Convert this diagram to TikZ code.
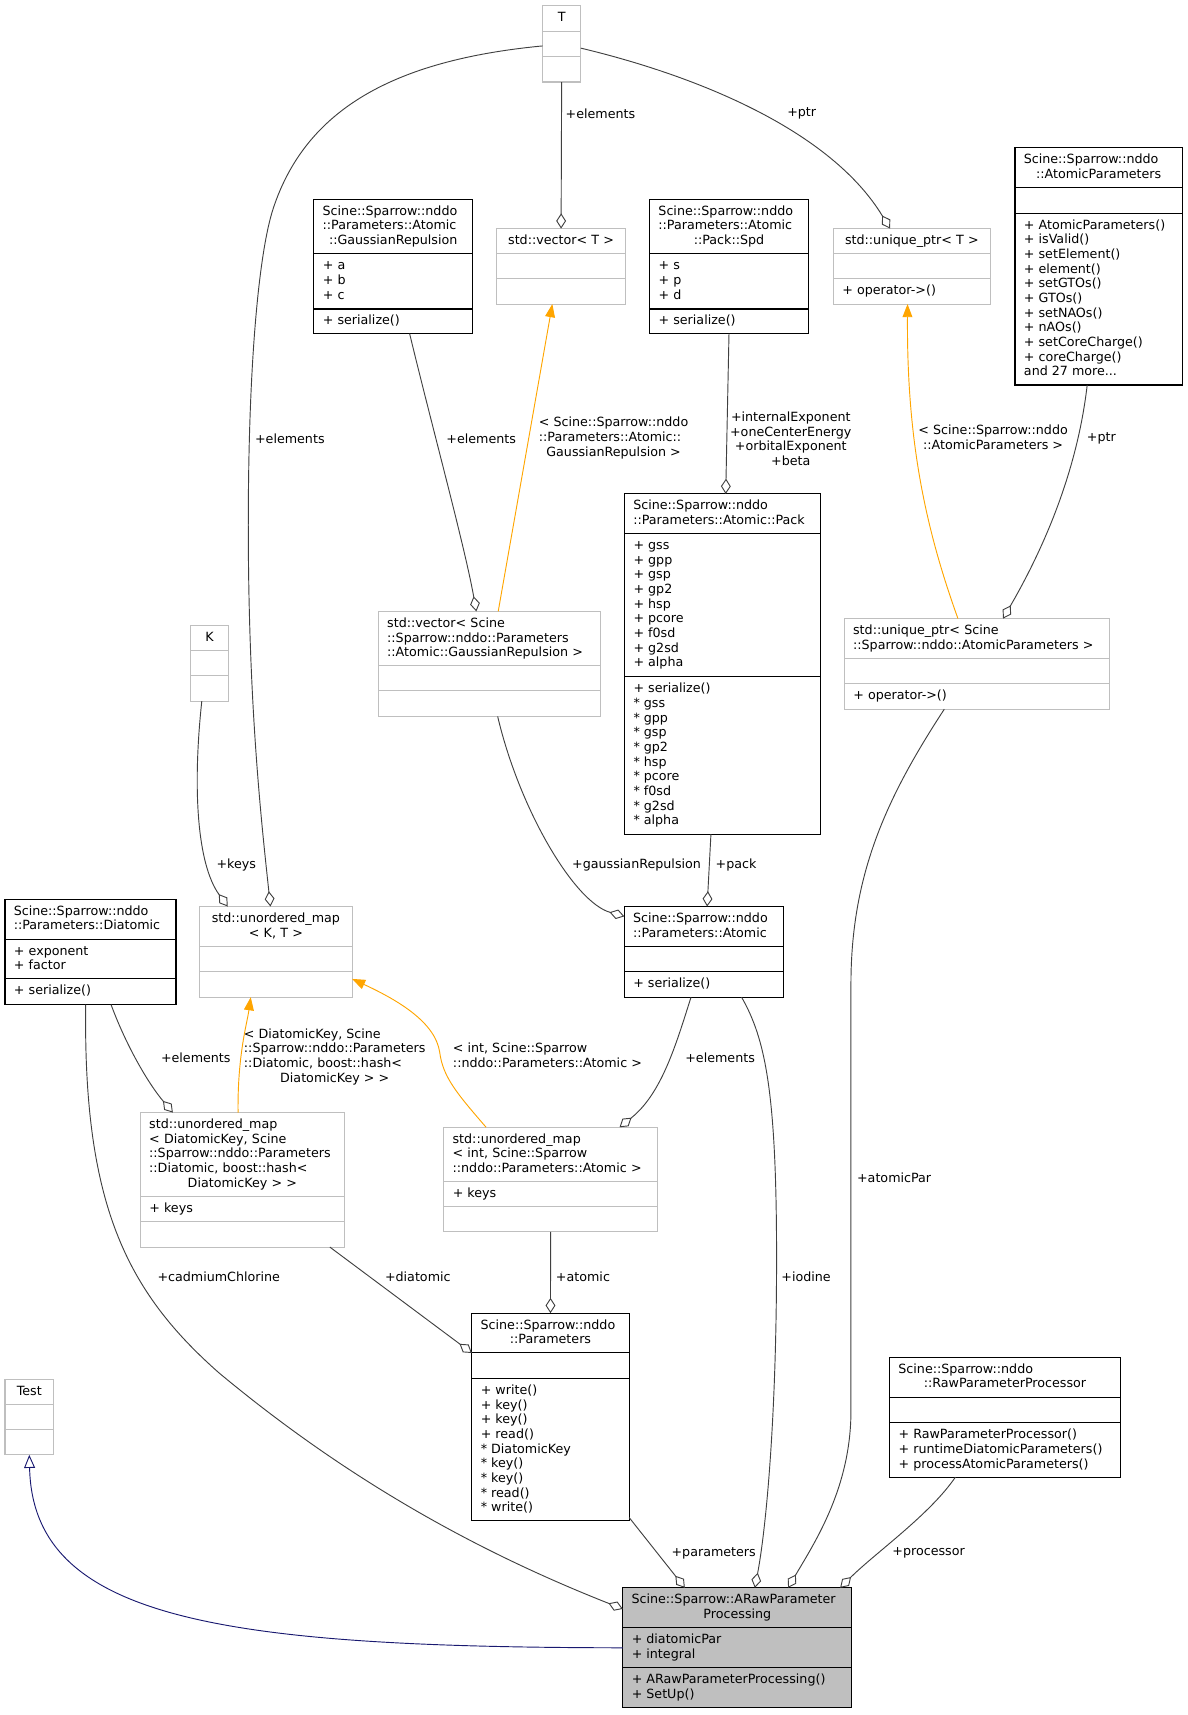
\documentclass[tikz,border=0pt]{standalone}
\usepackage{fontspec}
\setmainfont{DejaVu Sans}
\usetikzlibrary{arrows.meta}
\setlength\parindent{0pt}
\definecolor{edgegray}{HTML}{404040}
\definecolor{boxgray}{HTML}{BFBFBF}
\definecolor{tmplorange}{HTML}{FFA500}
\definecolor{inhnavy}{HTML}{191970}
\newcommand\fs{\fontsize{11.6}{13.4}\selectfont}
\newcommand\cl[1]{{\centering #1\par}}
\newcommand\elab[2]{\begin{tabular}{@{}l@{}}#1\\\multicolumn{1}{@{}c@{}}{#2}\end{tabular}}
\newcommand\seps[4]{\draw[#4,line width=1pt] ([yshift=-#2pt]#1.north west) -- ([yshift=-#2pt]#1.north east) ([yshift=-#3pt]#1.north west) -- ([yshift=-#3pt]#1.north east);}
\newcommand\hdr[3]{\node[hdrtxt,text width=#2] at ([yshift=-5pt]#1.north) {\strut #3};}
\newcommand\members[5]{\node[membtxt] at ([xshift=8pt,yshift=-#2pt-5pt]#1.north west) {\strut #4};
  \node[membtxt] at ([xshift=8pt,yshift=-#3pt-5pt]#1.north west) {\strut #5};}
\tikzset{
  classbox/.style={draw=black,line width=1pt,fill=white,anchor=north west,inner sep=0pt,outer sep=0pt},
  tmplbox/.style={classbox,draw=boxgray},
  hdrtxt/.style={anchor=north,inner sep=0pt,font=\fs,align=left},
  membtxt/.style={anchor=north west,inner sep=0pt,font=\fs,align=left},
  lbl/.style={inner sep=0pt,font=\fs},
  agg/.style={draw=edgegray,line width=0.85pt,-{Diamond[open,length=14pt,width=9pt]}},
  tmpl/.style={draw=tmplorange,line width=0.85pt,-{Triangle[length=12pt,width=9pt]}},
  inh/.style={draw=inhnavy,line width=0.85pt,-{Triangle[open,length=12pt,width=10pt]}},
}
\begin{document}
\begin{tikzpicture}[x=1pt,y=-1pt]
\useasboundingbox (0,0) rectangle (1086,1568);

\node[tmplbox,minimum width=35,minimum height=70] (T) at (496,5) {};
\seps{T}{24}{47}{boxgray}
\hdr{T}{19}{\cl{T}}

\node[tmplbox,minimum width=35,minimum height=69] (K) at (174,572) {};
\seps{K}{23}{46}{boxgray}
\hdr{K}{19}{\cl{K}}

\node[classbox,minimum width=145,minimum height=123] (GR) at (287,182) {};
\seps{GR}{50}{100.5}{black}
\hdr{GR}{129}{Scine::Sparrow::nddo\par ::Parameters::Atomic\par\cl{::GaussianRepulsion}}
\members{GR}{50}{100.5}{+ a\\+ b\\+ c}{+ serialize()}

\node[tmplbox,minimum width=118,minimum height=69] (vecT) at (454,209) {};
\seps{vecT}{23}{46}{boxgray}
\hdr{vecT}{102}{\cl{std::vector< T >}}

\node[classbox,minimum width=145,minimum height=123] (Spd) at (594,182) {};
\seps{Spd}{50}{100.5}{black}
\hdr{Spd}{129}{Scine::Sparrow::nddo\par ::Parameters::Atomic\par\cl{::Pack::Spd}}
\members{Spd}{50}{100.5}{+ s\\+ p\\+ d}{+ serialize()}

\node[tmplbox,minimum width=143.5,minimum height=69] (uptrT) at (762,209) {};
\seps{uptrT}{23}{46}{boxgray}
\hdr{uptrT}{127.5}{\cl{std::unique\_ptr< T >}}
\members{uptrT}{23}{46}{}{+ operator->()}

\node[classbox,minimum width=153,minimum height=217] (AP) at (928,135) {};
\seps{AP}{36.5}{60}{black}
\hdr{AP}{137}{Scine::Sparrow::nddo\par\cl{::AtomicParameters}}
\members{AP}{36.5}{60}{}{+ AtomicParameters()\\+ isValid()\\+ setElement()\\+ element()\\+ setGTOs()\\+ GTOs()\\+ setNAOs()\\+ nAOs()\\+ setCoreCharge()\\+ coreCharge()\\and 27 more...}

\node[tmplbox,minimum width=203,minimum height=96] (vecGR) at (346,559) {};
\seps{vecGR}{49.5}{72.5}{boxgray}
\hdr{vecGR}{187}{std::vector< Scine\par ::Sparrow::nddo::Parameters\par ::Atomic::GaussianRepulsion >}

\node[classbox,minimum width=179,minimum height=311] (Pack) at (571,451.6) {};
\seps{Pack}{36.3}{167.3}{black}
\hdr{Pack}{163}{Scine::Sparrow::nddo\par ::Parameters::Atomic::Pack}
\members{Pack}{36.3}{167.3}{+ gss\\+ gpp\\+ gsp\\+ gp2\\+ hsp\\+ pcore\\+ f0sd\\+ g2sd\\+ alpha}{+ serialize()\\* gss\\* gpp\\* gsp\\* gp2\\* hsp\\* pcore\\* f0sd\\* g2sd\\* alpha}

\node[tmplbox,minimum width=242.7,minimum height=82.8] (uptrAP) at (772,565.6) {};
\seps{uptrAP}{36.5}{59.7}{boxgray}
\hdr{uptrAP}{226.7}{std::unique\_ptr< Scine\par ::Sparrow::nddo::AtomicParameters >}
\members{uptrAP}{36.5}{59.7}{}{+ operator->()}

\node[classbox,minimum width=156.3,minimum height=96.2] (Dia) at (4.6,822.2) {};
\seps{Dia}{36.5}{72.8}{black}
\hdr{Dia}{140.3}{Scine::Sparrow::nddo\par ::Parameters::Diatomic}
\members{Dia}{36.5}{72.8}{+ exponent\\+ factor}{+ serialize()}

\node[tmplbox,minimum width=139.3,minimum height=82.9] (mapKT) at (182.6,828.8) {};
\seps{mapKT}{36.6}{59.5}{boxgray}
\hdr{mapKT}{123.3}{\cl{std::unordered\_map}\cl{< K, T >}}

\node[classbox,minimum width=145.4,minimum height=82.9] (Atomic) at (570.8,828.8) {};
\seps{Atomic}{36.6}{59.5}{black}
\hdr{Atomic}{129.4}{Scine::Sparrow::nddo\par ::Parameters::Atomic}
\members{Atomic}{36.6}{59.5}{}{+ serialize()}

\node[tmplbox,minimum width=186.5,minimum height=123] (mapDK) at (128.4,1017.2) {};
\seps{mapDK}{76.5}{99.6}{boxgray}
\hdr{mapDK}{170.5}{std::unordered\_map\par < DiatomicKey, Scine\par ::Sparrow::nddo::Parameters\par ::Diatomic, boost::hash<\par\cl{DiatomicKey > >}}
\members{mapDK}{76.5}{99.6}{+ keys}{}

\node[tmplbox,minimum width=195.2,minimum height=95.6] (mapInt) at (405.8,1030.6) {};
\seps{mapInt}{49.9}{72.8}{boxgray}
\hdr{mapInt}{179.2}{std::unordered\_map\par < int, Scine::Sparrow\par ::nddo::Parameters::Atomic >}
\members{mapInt}{49.9}{72.8}{+ keys}{}

\node[classbox,minimum width=143.8,minimum height=189.8] (Params) at (431.4,1200.6) {};
\seps{Params}{36.3}{59.7}{black}
\hdr{Params}{127.8}{Scine::Sparrow::nddo\par\cl{::Parameters}}
\members{Params}{36.3}{59.7}{}{+ write()\\+ key()\\+ key()\\+ read()\\* DiatomicKey\\* key()\\* key()\\* read()\\* write()}

\node[tmplbox,minimum width=44.4,minimum height=69.2] (Test) at (4.6,1260.9) {};
\seps{Test}{23.2}{46.4}{boxgray}
\hdr{Test}{28.4}{\cl{Test}}

\node[classbox,minimum width=210.8,minimum height=109.7] (RawPP) at (813.4,1240.8) {};
\seps{RawPP}{36.6}{60.1}{black}
\hdr{RawPP}{194.8}{Scine::Sparrow::nddo\par\cl{::RawParameterProcessor}}
\members{RawPP}{36.6}{60.1}{}{+ RawParameterProcessor()\\+ runtimeDiatomicParameters()\\+ processAtomicParameters()}

\node[classbox,fill=boxgray,minimum width=209.5,minimum height=109.7] (ARaw) at (569.4,1451.7) {};
\seps{ARaw}{36.5}{72.8}{black}
\hdr{ARaw}{193.5}{Scine::Sparrow::ARawParameter\par\cl{Processing}}
\members{ARaw}{36.5}{72.8}{+ diatomicPar\\+ integral}{+ ARawParameterProcessing()\\+ SetUp()}

\draw[agg] (T.south) -- (vecT.north);
\draw[agg] ([yshift=-4pt]T.east) .. controls (640,70) and (760,120) .. ([xshift=-20pt]uptrT.north);
\draw[agg] ([yshift=-2pt]T.west) .. controls (360,55) and (280,100) .. (250,190) .. controls (237,229) and (227,330) .. (227,480) .. controls (227,650) and (240,760) .. ([xshift=-5pt]mapKT.north);
\draw[agg] ([xshift=15pt]GR.south) .. controls (395,390) and (425,500) .. ([xshift=-12pt]vecGR.north);
\draw[tmpl] ([xshift=8pt]vecGR.north) -- ([xshift=-8pt]vecT.south);
\draw[agg] (Spd.south) -- ([xshift=3pt]Pack.north);
\draw[tmpl] ([xshift=-17.5pt]uptrAP.north) .. controls (845,480) and (829,400) .. ([xshift=-4pt]uptrT.south);
\draw[agg] ([xshift=-10.5pt]AP.south) .. controls (985,430) and (955,500) .. ([xshift=23.7pt]uptrAP.north);
\draw[agg] ([xshift=-7pt]K.south) .. controls (176,720) and (180,790) .. ([xshift=-44pt]mapKT.north);
\draw[agg] ([xshift=7.5pt]vecGR.south) .. controls (475,740) and (525,825) .. ([yshift=-9pt]Atomic.north west);
\draw[agg] ([xshift=-10.5pt]Pack.south) -- ([xshift=3pt]Atomic.north);
\draw[agg] ([xshift=18.75pt]Dia.south) .. controls (115,955) and (135,990) .. ([xshift=-63.6pt]mapDK.north);
\draw[tmpl] ([xshift=-4pt]mapDK.north) .. controls (217,965) and (226,935) .. ([xshift=-23pt]mapKT.south);
\draw[tmpl] ([xshift=-59pt]mapInt.north) .. controls (418,1000) and (405,985) .. (402,962) .. controls (398,935) and (365,915) .. ([yshift=16.7pt]mapKT.south east);
\draw[agg] ([xshift=-11.7pt]Atomic.south) .. controls (618,955) and (605,1000) .. ([xshift=63pt]mapInt.north);
\draw[agg] ([xshift=-13.3pt]mapDK.south east) -- ([yshift=-36.4pt]Params.north west);
\draw[agg] (mapInt.south) -- (Params.north);
\draw[agg] ([xshift=-4.4pt]Dia.south) .. controls (76,1100) and (115,1180) .. (200,1255) .. controls (320,1355) and (440,1420) .. ([yshift=-19.3pt]ARaw.north west);
\draw[agg] ([yshift=3pt]Params.south east) -- ([xshift=-48pt]ARaw.north);
\draw[agg] ([xshift=34.5pt]Atomic.south) .. controls (700,950) and (710,1000) .. (710,1150) .. controls (710,1300) and (700,1400) .. ([xshift=16pt]ARaw.north);
\draw[agg] ([xshift=-30pt]uptrAP.south) .. controls (810,730) and (778,800) .. (778,900) -- (778,1290) .. controls (778,1360) and (745,1410) .. ([xshift=46.4pt]ARaw.north);
\draw[agg] ([xshift=-45.3pt]RawPP.south) .. controls (850,1385) and (800,1420) .. ([xshift=94pt]ARaw.north);
\draw[inh] (ARaw.west) .. controls (200,1506) and (30,1480) .. (Test.south);

\node[lbl,anchor=west] (lbVecT) at (517,104) {+elements};
\node[lbl] (lbPtrT) at (733,104) {+ptr};
\node[lbl] (lbMapKT) at (265,401) {+elements};
\node[lbl] (lbGR) at (440,401) {+elements};
\node[lbl] (lbTmplGR) at (561,401) {\elab{< Scine::Sparrow::nddo\\::Parameters::Atomic::}{GaussianRepulsion >}};
\node[lbl,align=center] (lbSpd) at (723,401) {+internalExponent\\+oneCenterEnergy\\+orbitalExponent\\+beta};
\node[lbl] (lbTmplAP) at (908,401.5) {\elab{< Scine::Sparrow::nddo}{::AtomicParameters >}};
\node[lbl] (lbPtrAP) at (1007,401) {+ptr};
\node[lbl] (lbKeys) at (216,791) {+keys};
\node[lbl] (lbGaussRep) at (582,791) {+gaussianRepulsion};
\node[lbl] (lbPack) at (673,791) {+pack};
\node[lbl] (lbDia) at (179,967) {+elements};
\node[lbl] (lbTmplDK) at (306,966.6) {\elab{< DiatomicKey, Scine\\::Sparrow::nddo::Parameters\\::Diatomic, boost::hash<}{DiatomicKey > >}};
\node[lbl] (lbTmplInt) at (500.5,966.6) {\elab{< int, Scine::Sparrow}{::nddo::Parameters::Atomic >}};
\node[lbl] (lbAtomic) at (658.4,967) {+elements};
\node[lbl] (lbCd) at (200,1167) {+cadmiumChlorine};
\node[lbl] (lbDiatomic) at (382,1167) {+diatomic};
\node[lbl] (lbAtomicMap) at (533,1167) {+atomic};
\node[lbl] (lbIodine) at (737,1167) {+iodine};
\node[lbl] (lbAtomicPar) at (817.5,1077) {+atomicPar};
\node[lbl] (lbParams) at (652.5,1420) {+parameters};
\node[lbl] (lbProc) at (849,1420) {+processor};
\end{tikzpicture}
\end{document}
